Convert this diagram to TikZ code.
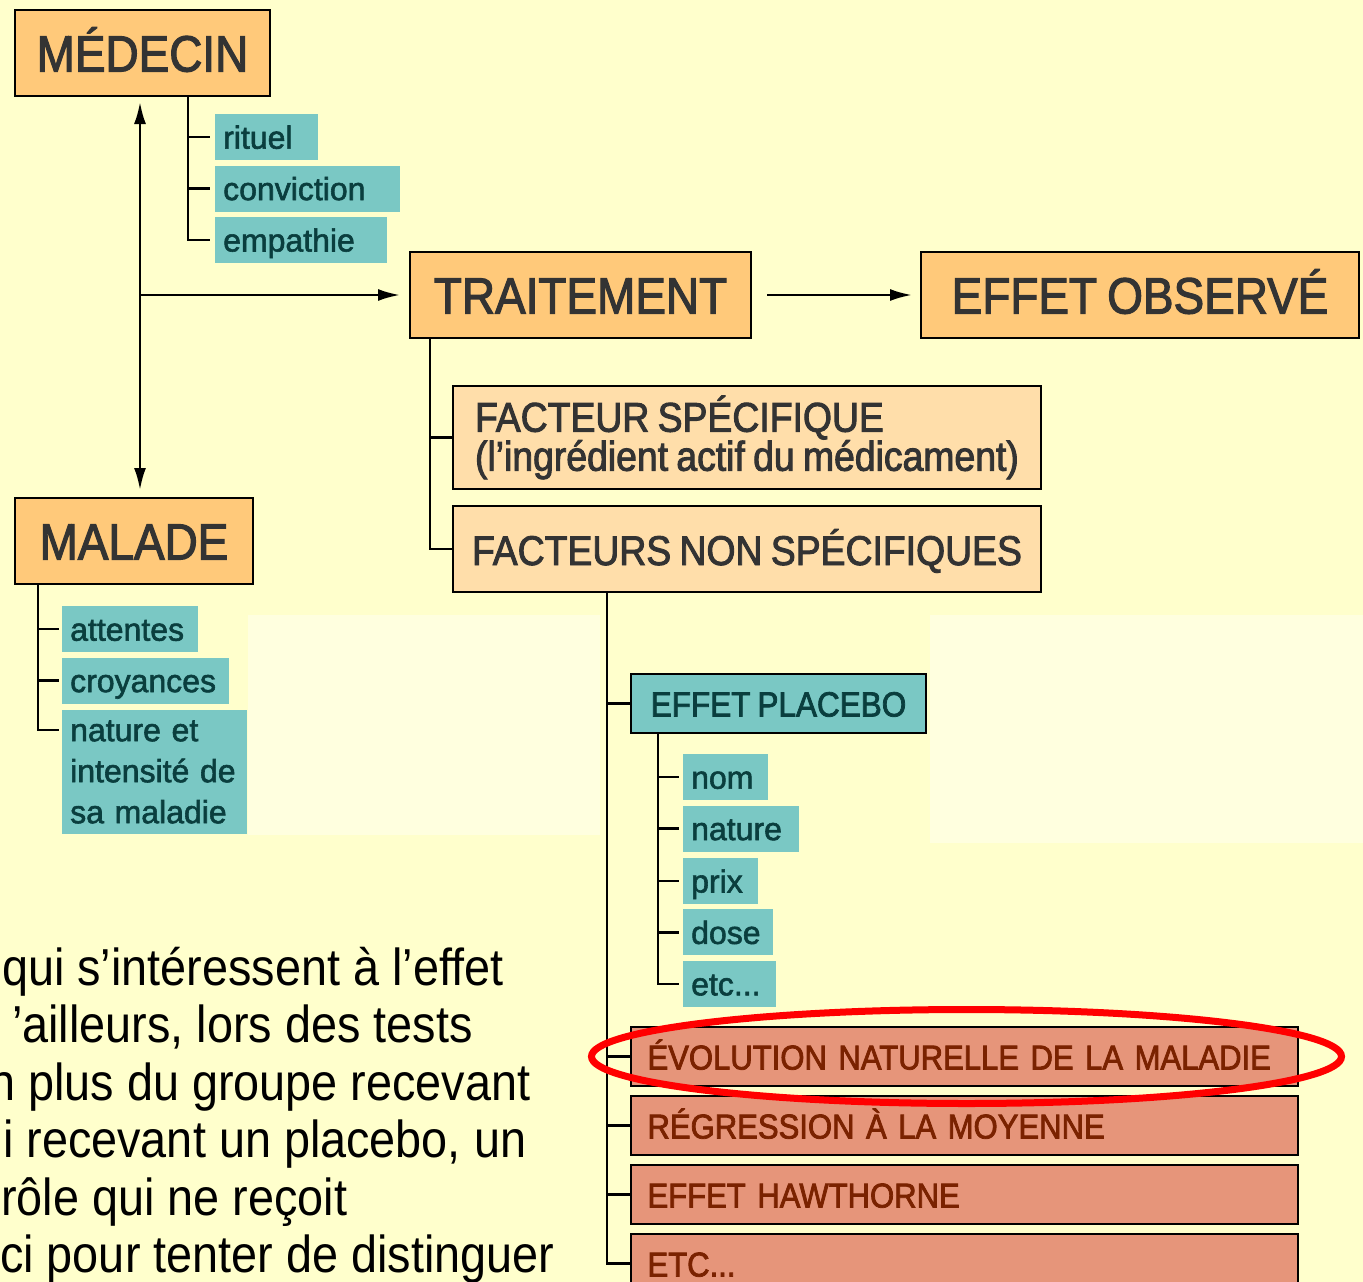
\documentclass[tikz,border=0pt]{standalone}
\usepackage{fontspec}
\setmainfont{Liberation Sans}[FakeStretch=0.9]
\newfontfamily\boxfont{Liberation Sans}[FakeStretch=0.9, FakeBold=2.2, WordSpace=0.8]
\newfontfamily\lowfont{Liberation Sans}[FakeBold=1.8]
\usepackage{xcolor}
\usetikzlibrary{positioning,arrows.meta}
\definecolor{PLbg}{HTML}{FFFFCC}
\definecolor{PLpale}{HTML}{FFFFDF}
\definecolor{PLorange}{HTML}{FFC97A}
\definecolor{PLpeach}{HTML}{FFDEAA}
\definecolor{PLteal}{HTML}{7AC8C4}
\definecolor{PLtealText}{HTML}{0A3E3E}
\definecolor{PLsalmon}{HTML}{E6957A}
\definecolor{PLrust}{HTML}{7A2200}
\definecolor{PLgray}{HTML}{333333}
\definecolor{PLred}{HTML}{FF0000}
\tikzset{
  >={Latex[length=22pt,width=12pt]},
  bigbox/.style={draw=black, line width=2pt, fill=PLorange, text=PLgray, font=\boxfont\fontsize{51}{55}\selectfont, minimum height=86pt, text height=37pt, text depth=0pt, inner sep=0pt},
  factbox/.style={draw=black, line width=2pt, fill=PLpeach, text=PLgray, font=\boxfont\fontsize{41.5}{39}\selectfont, align=left, inner xsep=0pt},
  placebobox/.style={draw=black, line width=2pt, fill=PLteal, text=PLtealText, font=\boxfont\fontsize{35}{40}\selectfont, minimum height=59pt, text height=26pt, text depth=0pt},
  biasbox/.style={draw=black, line width=2pt, fill=PLsalmon, text=PLrust, font=\boxfont\fontsize{34.5}{40}\selectfont, text width=634pt, inner xsep=16.5pt, align=left, minimum height=59pt, text height=26pt, text depth=0pt},
  tagbase/.style={fill=PLteal, text=PLtealText, font=\lowfont\fontsize{32}{41}\selectfont, inner xsep=8pt, inner ysep=0pt, align=left},
  tag/.style={tagbase, minimum height=46pt, text height=23pt, text depth=0pt},
  tree/.style={draw=black, line width=2.5pt},
  arr/.style={draw=black, line width=2.5pt},
  ring/.style={draw=PLred, line width=7pt},
  prose/.style={anchor=base west, inner sep=0pt, text=black, font=\fontsize{52}{57}\selectfont}
}
\begin{document}
\begin{tikzpicture}[x=1pt, y=-1pt, node distance=5pt]
\useasboundingbox (0,0) rectangle (1363,1282);
\fill[PLbg] (0,0) rectangle (1363,1282);
\fill[PLpale] (248,615) rectangle (600,835);
\fill[PLpale] (930,615) rectangle (1363,843);

% acteurs
\node[bigbox, minimum width=255pt, anchor=north west] (medecin) at (14,9) {MÉDECIN};
\node[bigbox, minimum width=238pt, anchor=north west] (malade) at (14,497) {MALADE};
\node[bigbox, minimum width=341pt, anchor=north west] (traitement) at (409,251) {TRAITEMENT};
\node[bigbox, minimum width=438pt, right=168pt of traitement] (effet) {EFFET OBSERVÉ};

% medecin
\node[tag, text width=87pt, anchor=north west] (rituel) at (215,114) {rituel};
\node[tag, text width=169pt, below=5pt of rituel.south west, anchor=north west] (conviction) {conviction};
\node[tag, text width=156pt, below=5pt of conviction.south west, anchor=north west] (empathie) {empathie};

% malade
\node[tag, text width=120pt, anchor=north west] (attentes) at (62,606) {attentes};
\node[tag, text width=151pt, below=5pt of attentes.south west, anchor=north west] (croyances) {croyances};
\node[tagbase, text width=169pt, minimum height=124pt, below=6pt of croyances.south west, anchor=north west] (intensite) {nature et\\intensité de\\sa maladie};

% facteurs
\node[factbox, minimum width=588pt, minimum height=103pt, anchor=north west] (specifique) at (452,385) {FACTEUR SPÉCIFIQUE\\(l’ingrédient actif du médicament)};
\node[factbox, minimum width=588pt, minimum height=86pt, text height=32pt, text depth=0pt, below=15pt of specifique.south west, anchor=north west] (nonspecifique) {FACTEURS NON SPÉCIFIQUES};

% effet placebo
\node[placebobox, minimum width=295pt, anchor=north west] (placebo) at (630,673) {EFFET PLACEBO};
\node[tag, text width=69pt, anchor=north west] (nom) at (683,754) {nom};
\node[tag, text width=100pt, below=5pt of nom.south west, anchor=north west] (nature) {nature};
\node[tag, text width=59pt, below=6pt of nature.south west, anchor=north west] (prix) {prix};
\node[tag, text width=74pt, below=5pt of prix.south west, anchor=north west] (dose) {dose};
\node[tag, text width=77pt, below=5pt of dose.south west, anchor=north west] (etcp) {etc...};

% autres effets
\node[biasbox, anchor=north west] (evolution) at (630,1026) {ÉVOLUTION NATURELLE DE LA MALADIE};
\node[biasbox, below=8pt of evolution.south west, anchor=north west] (regression) {RÉGRESSION À LA MOYENNE};
\node[biasbox, below=8pt of regression.south west, anchor=north west] (hawthorne) {EFFET HAWTHORNE};
\node[biasbox, below=8pt of hawthorne.south west, anchor=north west] (etcfin) {ETC...};

% arbres
\draw[tree] ([xshift=-27pt]rituel.west |- medecin.south) |- ([xshift=-5pt]empathie.west);
\foreach \n in {rituel,conviction} \draw[tree] ([xshift=-27pt]\n.west) -- ([xshift=-5pt]\n.west);
\draw[tree] ([xshift=-24pt]attentes.west |- malade.south) |- ([xshift=-3pt,yshift=-20pt]intensite.north west);
\foreach \n in {attentes,croyances} \draw[tree] ([xshift=-24pt]\n.west) -- ([xshift=-3pt]\n.west);
\draw[tree] ([xshift=-22pt]specifique.west |- traitement.south) |- (nonspecifique.west);
\draw[tree] ([xshift=-22pt]specifique.west) -- (specifique.west);
\draw[tree] ([xshift=-23pt]placebo.west |- nonspecifique.south) |- (etcfin.west);
\foreach \n in {placebo,evolution,regression,hawthorne} \draw[tree] ([xshift=-23pt]\n.west) -- (\n.west);
\draw[tree] ([xshift=-25pt]nom.west |- placebo.south) |- ([xshift=-4pt]etcp.west);
\foreach \n in {nom,nature,prix,dose} \draw[tree] ([xshift=-25pt]\n.west) -- ([xshift=-4pt]\n.west);

% fleches
\coordinate (fork) at ([xshift=126pt]medecin.south west |- traitement.west);
\draw[arr, <->, shorten <=5pt, shorten >=7pt] ([xshift=126pt]medecin.south west) -- ([xshift=126pt]malade.north west);
\draw[arr, ->, shorten >=9pt] (fork) -- (traitement.west);
\draw[arr, ->, shorten <=15pt, shorten >=8pt] (traitement) -- (effet);

\draw[ring] ([xshift=2pt]evolution.center) ellipse [x radius=375pt, y radius=47pt];

% texte coupe
\node[prose] (ligne1) at (2,985) {qui s’intéressent à l’effet};
\node[prose] (ligne2) at (12,1042) {’ailleurs, lors des tests};
\node[prose] (ligne3) at (-11,1100) {n plus du groupe recevant};
\node[prose] (ligne4) at (3,1157) {i recevant un placebo, un};
\node[prose] (ligne5) at (1,1215) {rôle qui ne reçoit};
\node[prose] (ligne6) at (0,1272) {ci pour tenter de distinguer};
\end{tikzpicture}
\end{document}
